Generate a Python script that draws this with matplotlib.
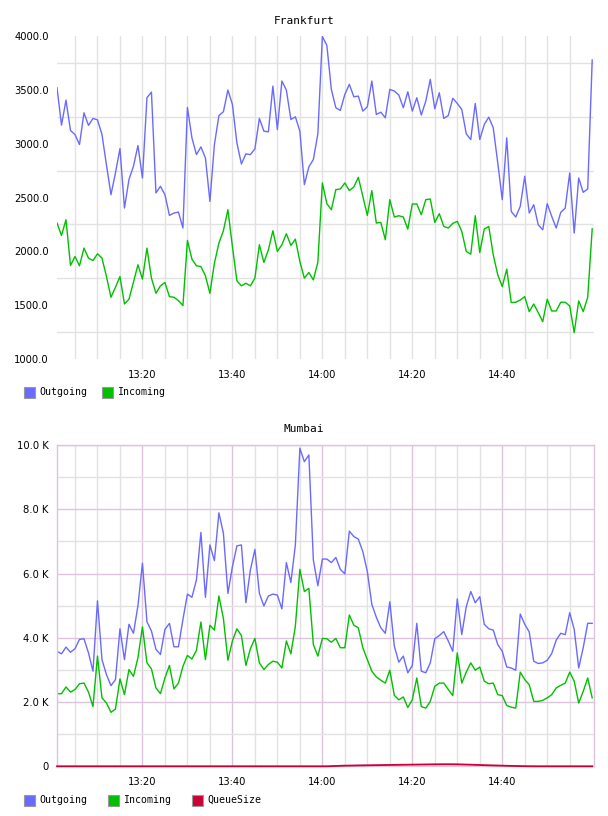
import numpy as np
import pandas as pd
import matplotlib
matplotlib.use("Agg")
import matplotlib.pyplot as plt
from matplotlib.patches import Rectangle
from matplotlib.ticker import FuncFormatter, MultipleLocator

# --- data (one sample per minute, 13:01 .. 15:00) ---
start = "2024-01-01 13:01"
n_points = 120
day = "2024-01-01 "

fra_outgoing = [3518, 3171, 3403, 3121, 3084, 2991, 3285, 3168, 3233, 3220,
                3084, 2800, 2526, 2728, 2954, 2402, 2666, 2790, 2982, 2681,
                3425, 3477, 2542, 2604, 2526, 2334, 2356, 2365, 2217, 3335,
                3053, 2898, 2969, 2867, 2464, 2991, 3260, 3295, 3496, 3363,
                3006, 2811, 2904, 2898, 2951, 3233, 3115, 3109, 3533, 3130,
                3580, 3496, 3223, 3248, 3115, 2619, 2784, 2852, 3090, 3992,
                3911, 3502, 3332, 3307, 3456, 3549, 3434, 3440, 3301, 3341,
                3580, 3270, 3291, 3239, 3502, 3487, 3450, 3332, 3480, 3301,
                3425, 3264, 3394, 3595, 3322, 3471, 3233, 3260, 3420, 3372,
                3316, 3090, 3037, 3372, 3037, 3177, 3245, 3146, 2821, 2480,
                3053, 2371, 2319, 2418, 2697, 2356, 2433, 2247, 2201, 2443,
                2325, 2217, 2362, 2402, 2728, 2170, 2681, 2548, 2579, 3775]

fra_incoming = [2263, 2148, 2294, 1870, 1953, 1867, 2031, 1938, 1916, 1978,
                1938, 1767, 1575, 1668, 1767, 1513, 1557, 1715, 1876, 1743,
                2031, 1752, 1612, 1681, 1712, 1581, 1575, 1544, 1498, 2102,
                1929, 1867, 1860, 1774, 1612, 1891, 2077, 2192, 2387, 2046,
                1727, 1681, 1705, 1681, 1752, 2062, 1898, 2015, 2192, 2000,
                2062, 2164, 2055, 2114, 1907, 1752, 1805, 1736, 1900, 2635,
                2443, 2387, 2573, 2579, 2635, 2564, 2598, 2687, 2511, 2334,
                2564, 2263, 2269, 2108, 2480, 2319, 2331, 2319, 2207, 2440,
                2440, 2340, 2480, 2486, 2269, 2350, 2232, 2217, 2260, 2279,
                2186, 2000, 1975, 2331, 1990, 2207, 2232, 1969, 1783, 1674,
                1836, 1526, 1529, 1550, 1581, 1442, 1513, 1433, 1349, 1557,
                1448, 1448, 1529, 1529, 1495, 1247, 1541, 1442, 1575, 2210]

# Mumbai values in thousands
bom_outgoing = [3.58, 3.50, 3.71, 3.55, 3.66, 3.95, 3.97, 3.53, 2.96, 5.15,
                3.32, 2.85, 2.51, 2.70, 4.28, 3.32, 4.42, 4.14, 5.00, 6.32,
                4.50, 4.21, 3.64, 3.48, 4.26, 4.45, 3.72, 3.72, 4.57, 5.36,
                5.26, 5.80, 7.28, 5.26, 6.89, 6.40, 7.89, 7.25, 5.38, 6.21,
                6.86, 6.89, 5.09, 6.11, 6.75, 5.38, 4.99, 5.30, 5.36, 5.33,
                4.90, 6.34, 5.72, 6.89, 9.90, 9.48, 9.69, 6.42, 5.62, 6.45,
                6.45, 6.34, 6.50, 6.13, 5.99, 7.32, 7.15, 7.07, 6.68, 6.06,
                5.04, 4.64, 4.31, 4.14, 5.12, 3.74, 3.24, 3.43, 2.91, 3.14,
                4.45, 2.96, 2.91, 3.22, 3.97, 4.07, 4.19, 3.90, 3.58, 5.21,
                4.10, 4.97, 5.44, 5.09, 5.28, 4.42, 4.28, 4.24, 3.79, 3.58,
                3.09, 3.06, 2.99, 4.74, 4.42, 4.18, 3.27, 3.20, 3.22, 3.30,
                3.51, 3.93, 4.14, 4.10, 4.78, 4.26, 3.06, 3.69, 4.45, 4.45]

bom_incoming = [2.26, 2.26, 2.47, 2.31, 2.39, 2.57, 2.59, 2.31, 1.86, 3.43,
                2.13, 1.97, 1.68, 1.78, 2.72, 2.23, 3.01, 2.80, 3.38, 4.34,
                3.22, 3.03, 2.44, 2.26, 2.75, 3.14, 2.41, 2.59, 3.11, 3.45,
                3.34, 3.61, 4.49, 3.32, 4.39, 4.24, 5.30, 4.60, 3.30, 3.90,
                4.28, 4.07, 3.14, 3.66, 3.98, 3.22, 3.01, 3.17, 3.27, 3.24,
                3.06, 3.90, 3.50, 4.36, 6.13, 5.44, 5.54, 3.79, 3.43, 3.98,
                3.97, 3.86, 3.98, 3.69, 3.69, 4.71, 4.39, 4.31, 3.69, 3.32,
                2.96, 2.78, 2.68, 2.59, 2.99, 2.21, 2.07, 2.16, 1.83, 2.07,
                2.75, 1.86, 1.81, 2.02, 2.49, 2.59, 2.59, 2.39, 2.20, 3.53,
                2.59, 2.93, 3.22, 2.99, 3.09, 2.65, 2.57, 2.59, 2.23, 2.20,
                1.89, 1.84, 1.81, 2.93, 2.70, 2.54, 2.02, 2.02, 2.05, 2.13,
                2.23, 2.44, 2.52, 2.59, 2.93, 2.65, 1.97, 2.33, 2.75, 2.13]

bom_queue = [0] * 61 + [
    0.005, 0.010, 0.015, 0.020, 0.022, 0.025, 0.028, 0.030, 0.032, 0.034,
    0.036, 0.038, 0.040, 0.042, 0.044, 0.046, 0.048, 0.050, 0.052, 0.054,
    0.056, 0.058, 0.060, 0.062, 0.063, 0.064, 0.064, 0.063, 0.062, 0.058,
    0.054, 0.050, 0.045, 0.040, 0.036, 0.032, 0.028, 0.024, 0.020, 0.016,
    0.012, 0.009, 0.006, 0.004, 0.002] + [0] * 14

x_labels = ["13:20", "13:40", "14:00", "14:20", "14:40"]
fra_title = "Frankfurt"
bom_title = "Mumbai"
fra_legend = ["Outgoing", "Incoming"]
bom_legend = ["Outgoing", "Incoming", "QueueSize"]

C_OUT = "#6a6aff"
C_IN = "#00c000"
C_Q = "#cc0033"
GRID = "#e2e2e2"
MAJOR = "#dcc4dc"

W, H = 608, 816
times = pd.date_range(start, periods=n_points, freq="min")
x_end = pd.Timestamp(day + "15:00:24")
major_t = pd.to_datetime([day + s for s in x_labels])
minor_t = pd.date_range(day + "13:05", day + "14:55", freq="5min")

fig = plt.figure(figsize=(W / 100, H / 100), dpi=100)


def px_axes(left, top, right, bottom):
    return fig.add_axes([left / W, 1 - bottom / H, (right - left) / W, (bottom - top) / H])


def style_time_axis(ax):
    ax.set_xticks(minor_t, minor=True)
    ax.set_xticks(major_t)
    ax.set_xticklabels(x_labels)
    ax.set_xlim(times[0], x_end)
    ax.tick_params(which="both", length=0, labelsize=7.2, colors="black")
    ax.tick_params(axis="x", pad=8)
    ax.tick_params(axis="y", pad=6)
    ax.set_axisbelow(True)


# ---- Frankfurt ----
ax1 = px_axes(57, 35.7, 594, 359.3)
ax1.plot(times, fra_outgoing, color=C_OUT, lw=1.0)
ax1.plot(times, fra_incoming, color=C_IN, lw=1.0)
ax1.set_ylim(1000, 4000)
ax1.yaxis.set_major_locator(MultipleLocator(500))
ax1.set_yticks(np.arange(1250, 4000, 500), minor=True)
ax1.yaxis.set_major_formatter(FuncFormatter(lambda v, p: f"{v:.1f}"))
style_time_axis(ax1)
ax1.grid(True, axis="x", which="both", color=GRID, lw=1.0)
ax1.grid(True, axis="y", which="minor", color=GRID, lw=1.0)
for s in ax1.spines.values():
    s.set_visible(False)

# ---- Mumbai ----
ax2 = px_axes(57, 445, 594, 766.3)
ax2.plot(times, np.array(bom_outgoing) * 1000, color=C_OUT, lw=1.0)
ax2.plot(times, np.array(bom_incoming) * 1000, color=C_IN, lw=1.0)
ax2.plot(times, np.array(bom_queue) * 1000, color=C_Q, lw=1.3, clip_on=False, zorder=5)
ax2.set_ylim(0, 10000)
ax2.yaxis.set_major_locator(MultipleLocator(2000))
ax2.set_yticks(np.arange(1000, 10000, 2000), minor=True)
ax2.yaxis.set_major_formatter(FuncFormatter(lambda v, p: "0" if v == 0 else f"{v / 1000:.1f} K"))
style_time_axis(ax2)
ax2.grid(True, which="minor", color=GRID, lw=1.0)
ax2.grid(True, which="major", color=MAJOR, lw=1.0)
for s in ax2.spines.values():
    s.set_color(MAJOR)
    s.set_linewidth(1.0)

# ---- titles ----
mono = "DejaVu Sans Mono"
fig.text(0.5, 1 - 20.5 / H, fra_title, ha="center", va="center", family=mono, size=8)
fig.text(0.5, 1 - 428.5 / H, bom_title, ha="center", va="center", family=mono, size=8)


# ---- legends ----
def legend_row(y, items, colors, xs):
    for (label, col, x) in zip(items, colors, xs):
        fig.add_artist(Rectangle((x / W, 1 - (y + 5.5) / H), 10.5 / W, 11 / H,
                                 transform=fig.transFigure, facecolor=col,
                                 edgecolor="#999999", lw=0.8))
        fig.text((x + 15) / W, 1 - y / H, label, ha="left", va="center",
                 family=mono, size=7.1)


legend_row(392.5, fra_legend, [C_OUT, C_IN], [24, 102])
legend_row(800, bom_legend, [C_OUT, C_IN, C_Q], [24, 108, 192])

fig.savefig("out.png", dpi=100)
